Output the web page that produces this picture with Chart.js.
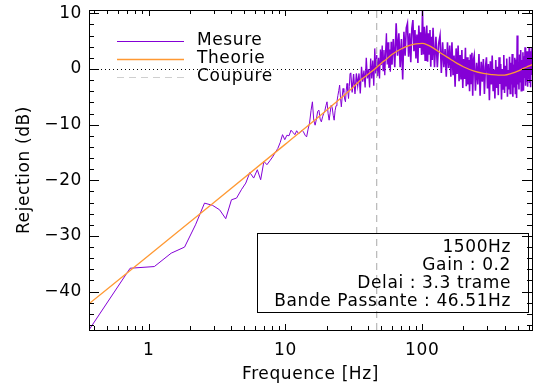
<!DOCTYPE html>
<html><head><meta charset="utf-8">
<script src="https://cdn.jsdelivr.net/npm/chart.js@4/dist/chart.umd.min.js"></script>
<style>html,body{margin:0;padding:0;background:#fff;}canvas{display:block;}</style>
</head><body>
<canvas id="c" width="533" height="389" style="width:533px;height:389px"></canvas>
<script>
// ---- measured rejection (Mesure) ----
const mesFreq = [
  0.366, 0.732, 1.10, 1.46, 1.83, 2.20, 2.56, 2.93, 3.30, 3.66, 4.03, 4.39, 4.76, 5.13, 5.49, 5.86, 6.23, 6.59, 6.96, 7.32,
  7.69, 8.06, 8.42, 8.79, 9.16, 9.52, 9.89, 10.25, 10.62, 10.99, 11.35, 11.72, 12.08, 12.45, 12.82, 13.18, 13.55, 13.92, 14.28, 14.65,
  15.01, 15.38, 15.75, 16.11, 16.48, 16.85, 17.21, 17.58, 17.94, 18.31, 18.68, 19.04, 19.41, 19.78, 20.14, 20.51, 20.87, 21.24, 21.61, 21.97,
  22.34, 22.71, 23.07, 23.44, 23.80, 24.17, 24.54, 24.90, 25.27, 25.63, 26.00, 26.37, 26.73, 27.10, 27.47, 27.83, 28.20, 28.56, 28.93, 29.30, 29.66,
  30, 30.75, 31.5, 32.25, 33, 33.75, 34.5, 35.25, 36, 36.75, 37.5, 38.25, 39, 39.75, 40.5, 41.25, 42, 42.75, 43.5, 44.25,
  45, 45.75, 46.5, 47.25, 48, 48.75, 49.5, 50.25, 51, 51.75, 52.5, 53.25, 54, 54.75, 55.5, 56.25, 57, 57.75, 58.5, 59.25,
  60, 61.5, 63, 64.5, 66, 67.5, 69, 70.5, 72, 73.5, 75, 76.5, 78, 79.5, 81, 82.5, 84, 85.5, 87, 88.5,
  90, 91.5, 93, 94.5, 96, 97.5, 99, 100.5, 102, 103.5, 105, 106.5, 108, 109.5, 111, 112.5, 114, 115.5, 117, 118.5,
  120, 123, 126, 129, 132, 135, 138, 141, 144, 147, 150, 153, 156, 159, 162, 165, 168, 171, 174, 177,
  180, 183, 186, 189, 192, 195, 198, 201, 204, 207, 210, 213, 216, 219, 222, 225, 228, 231, 234, 237,
  240, 245, 250, 255, 260, 265, 270, 275, 280, 285, 290, 295, 300, 305, 310, 315, 320, 325, 330, 335,
  340, 345, 350, 355, 360, 365, 370, 375, 380, 385, 390, 395, 400, 405, 410, 415, 420, 425, 430, 435,
  440, 445, 450, 455, 460, 465, 470, 475, 480, 485, 490, 495, 500, 505, 510, 515, 520, 525, 530, 535,
  540, 545, 550, 555, 560, 565, 570, 575, 580, 585, 590, 595, 600, 605, 610, 615, 620, 625, 630, 635, 640
];
const mesDb = [
  -46.9, -35.8, -35.5, -33.1, -32.0, -28.0, -24.1, -24.5, -25.3, -26.9, -23.5, -23.2, -21.7, -20.5, -18.6, -19.6, -18.1, -19.9, -16.6, -17.2,
  -16.5, -15.8, -15.0, -14.3, -13.2, -11.8, -12.7, -11.9, -12.0, -11.0, -11.4, -11.8, -11.1, -11.6, -11.4, -11.0, -11.3, -11.9, -12.2, -10.8,
  -9.7, -7.5, -5.9, -9.2, -10.1, -9.0, -7.6, -7.4, -9.0, -9.5, -8.6, -8.0, -7.5, -6.6, -5.9, -8.0, -9.2, -7.8, -6.5, -6.9,
  -8.3, -9.2, -7.5, -6.6, -5.9, -4.8, -3.9, -2.9, -5.2, -6.8, -5.0, -3.5, -4.2, -5.4, -5.9, -3.8, -2.6, -3.9, -5.3, -3.2, -0.8,
  -0.7, -4.2, -0.9, -4.5, -0.8, -3.0, -0.8, -4.4, 0.4, -2.3, -0.3, -3.3, 2.0, -1.7, 0.0, -3.3, 1.9, -1.7, 1.5, -3.0,
  3.7, -0.8, 2.5, -1.3, 2.0, -1.7, 3.5, 0.7, 4.2, -0.3, 3.4, -1.1, 3.2, 6.4, 0.8, 4.8, 0.2, 3.5, -0.5, 4.9,
  0.8, 5.4, 0.3, 8.2, 2.4, 6.4, 0.3, 5.4, -1.9, 6.7, 2.4, 7.4, 8.2, 2.2, 6.4, 1.2, 7.3, 8.8, 3.2, 7.0,
  1.9, 6.2, 1.1, 7.8, 3.8, 6.6, 2.5, 10.6, 2.6, 7.6, 1.6, 6.0, 7.8, 1.3, 6.4, 2.7, 7.0, 0.4, 5.8, 1.6,
  7.4, 0.3, 5.8, 0.3, 4.6, 6.0, -0.7, 4.8, 0.3, 3.6, -1.4, 4.8, 0.2, 4.2, -1.4, 4.8, -1.1, 2.4, -3.2, 3.7,
  -0.9, 4.2, -2.2, 2.5, -1.9, 3.4, -3.4, 1.8, -1.8, 3.8, -3.1, 2.1, -2.8, 1.6, -4.0, 2.6, -2.6, 2.9, -4.8, 1.6,
  2.4, -3.9, 1.1, -2.8, 2.7, -4.8, 1.3, -2.3, 1.8, -4.5, 0.3, 2.1, -3.5, 0.9, -5.6, 1.4, -2.8, 2.4, -4.0, -0.1,
  -5.3, 1.6, -3.4, 0.4, -4.7, 2.1, -2.7, 0.9, -5.5, 0.0, -3.6, 2.5, -4.3, 0.6, -3.0, 1.9, -5.0, -0.2, -3.7, 2.2,
  -4.4, 1.1, -2.8, 2.7, -5.0, 0.8, -3.2, 2.0, -4.4, 1.7, -5.2, 6.0, -2.8, 1.0, -3.7, 2.6, -2.3, 3.4, -3.9, 1.6,
  -2.7, 3.0, -3.9, 2.3, -1.6, 3.9, -3.0, 1.3, -2.3, 3.2, -3.2, 2.2, -1.8, 3.8, -2.5, 2.6, -3.3, 3.2, -1.1, 3.8, -1.8
];
// ---- theoretical rejection (Theorie) ----
const theoFreq = [0.366, 1, 3, 10, 20, 30, 35, 40, 45, 50, 55, 60, 70, 80, 90, 100, 110, 120, 140, 160, 180, 200, 240, 280, 320, 360, 400, 450, 500, 550, 600, 640];
const theoDb   = [-42.2, -33.5, -24.0, -13.5, -7.4, -3.7, -2.1, -1.0, 0.0, 1.0, 1.8, 2.6, 3.6, 4.2, 4.5, 4.6, 4.3, 3.8, 2.7, 1.8, 1.0, 0.4, -0.4, -0.8, -1.0, -1.1, -1.1, -0.8, -0.4, 0.1, 0.5, 0.8];
// ---- cutoff (Coupure) ----
const cutoffHz = 46.51;
// ---- axes ----
const xTicks = [1, 10, 100];
const yTicks = [-40, -30, -20, -10, 0, 10];
const xRange = [0.3662, 635];
const yRange = [-46.9, 10.6];
const seriesLabels = ['Mesure', 'Theorie', 'Coupure'];
const infoLines = ['1500Hz', 'Gain : 0.2', 'Delai : 3.3 trame', 'Bande Passante : 46.51Hz'];
const xTitle = 'Frequence [Hz]';
const yTitle = 'Rejection (dB)';

const FONT = "'DejaVu Sans', sans-serif";
const FS = 17;
const PURPLE = '#8400d6', ORANGE = '#ff9933', GREY = '#a8a8a8';

const decor = {
  id: 'decor',
  beforeDraw(chart) { chart.ctx.letterSpacing = '0.6px'; },
  beforeDatasetsDraw(chart) {
    const {ctx, chartArea: a, scales: {y}} = chart;
    const py = Math.round(y.getPixelForValue(0)) + 0.5;
    ctx.save();
    ctx.strokeStyle = '#000'; ctx.lineWidth = 1; ctx.setLineDash([1, 3]);
    ctx.beginPath(); ctx.moveTo(a.left, py); ctx.lineTo(a.right, py); ctx.stroke();
    ctx.restore();
  },
  afterDraw(chart) {
    const {ctx, chartArea: a, scales: {x, y}} = chart;
    ctx.save();
    ctx.strokeStyle = '#000'; ctx.lineWidth = 1; ctx.setLineDash([]);
    ctx.strokeRect(a.left + 0.5, a.top + 0.5, a.right - a.left, a.bottom - a.top);
    ctx.beginPath();
    for (let d = -1; d <= 3; d++) for (let m = 1; m <= 9; m++) {
      const v = m * Math.pow(10, d);
      if (v < x.min || v > x.max) continue;
      const px = Math.round(x.getPixelForValue(v)) + 0.5;
      const L = m === 1 ? 6 : 4;
      ctx.moveTo(px, a.bottom); ctx.lineTo(px, a.bottom - L);
      ctx.moveTo(px, a.top); ctx.lineTo(px, a.top + L);
    }
    for (let v = -46; v <= 10; v += 2) {
      const py = Math.round(y.getPixelForValue(v)) + 0.5;
      const L = v % 10 === 0 ? 10 : 5;
      ctx.moveTo(a.left, py); ctx.lineTo(a.left + L, py);
      ctx.moveTo(a.right, py); ctx.lineTo(a.right - L, py);
    }
    ctx.stroke();
    // legend
    ctx.font = FS + 'px ' + FONT;
    ctx.fillStyle = '#000';
    ctx.textAlign = 'left'; ctx.textBaseline = 'middle';
    chart.data.datasets.forEach((ds, i) => {
      const ly = Math.round(a.top + 30.7 + 18.3 * i) + 0.5;
      ctx.save();
      ctx.strokeStyle = i === 2 ? '#cfcfcf' : ds.borderColor;
      ctx.lineWidth = i === 0 ? 1 : ds.borderWidth;
      ctx.setLineDash(ds.borderDash || []);
      ctx.beginPath(); ctx.moveTo(a.left + 28, ly); ctx.lineTo(a.left + 95, ly); ctx.stroke();
      ctx.restore();
      ctx.fillText(ds.label, a.left + 108, ly - 1);
    });
    // info box
    ctx.strokeRect(257.5, 233.5, 271, 79);
    ctx.textAlign = 'right'; ctx.textBaseline = 'alphabetic';
    infoLines.forEach((t, i) => ctx.fillText(t, 511, 251.5 + 18.2 * i));
    ctx.restore();
  }
};

const fmtY = v => (v < 0 ? '\u2212' + Math.abs(v) : String(v));

new Chart(document.getElementById('c'), {
  type: 'line',
  data: {
    datasets: [
      { label: seriesLabels[0], data: mesFreq.map((f, i) => ({x: f, y: mesDb[i]})), borderColor: PURPLE, borderWidth: 1, pointRadius: 0, tension: 0, order: 2,
        segment: { borderWidth: c => (c.p0.parsed.x >= 60 ? 1.6 : (c.p0.parsed.x >= 30 ? 1.3 : 1)) } },
      { label: seriesLabels[1], data: theoFreq.map((f, i) => ({x: f, y: theoDb[i]})), borderColor: ORANGE, borderWidth: 1.3, pointRadius: 0, cubicInterpolationMode: 'monotone', order: 1 },
      { label: seriesLabels[2], data: [{x: cutoffHz, y: yRange[0]}, {x: cutoffHz, y: yRange[1]}], borderColor: GREY, borderWidth: 1, borderDash: [7, 5], pointRadius: 0, order: 0 }
    ]
  },
  options: {
    animation: false, responsive: false, events: [],
    layout: {padding: {top: 10, right: 1, left: 0, bottom: 0}},
    plugins: {legend: {display: false}, tooltip: {enabled: false}},
    scales: {
      x: {
        type: 'logarithmic', min: xRange[0], max: xRange[1],
        grid: {display: false, drawTicks: false}, border: {display: false},
        afterBuildTicks: s => { s.ticks = xTicks.map(v => ({value: v})); },
        afterFit: s => { s.height = 59; s.paddingLeft = 0; s.paddingRight = 0; },
        ticks: {color: '#000', font: {family: FONT, size: FS}, padding: 10, maxRotation: 0, autoSkip: false, callback: v => String(v)},
        title: {display: true, text: xTitle, color: '#000', font: {family: FONT, size: FS}, padding: {top: 0, bottom: 4}}
      },
      y: {
        min: yRange[0], max: yRange[1],
        grid: {display: false, drawTicks: false}, border: {display: false},
        afterBuildTicks: s => { s.ticks = yTicks.map(v => ({value: v})); },
        afterFit: s => { s.width = 89; s.paddingTop = 0; s.paddingBottom = 0; },
        ticks: {color: '#000', font: {family: FONT, size: FS}, padding: 7, callback: v => fmtY(v)},
        title: {display: true, text: yTitle, color: '#000', font: {family: FONT, size: FS}, padding: {top: 14, bottom: 0}}
      }
    }
  },
  plugins: [decor]
});
</script>
</body></html>
